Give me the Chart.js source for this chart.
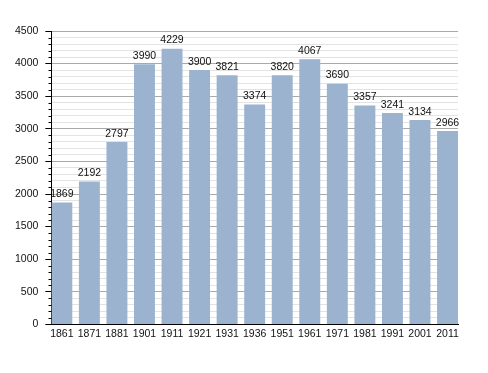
<!DOCTYPE html>
<html lang="en">
<head>
  <meta charset="utf-8" />
  <title>Population</title>
  <script src="https://cdn.jsdelivr.net/npm/chart.js@4.4.1/dist/chart.umd.min.js"></script>
  <style>
    html, body { margin: 0; padding: 0; background: #fff; }
  </style>
</head>
<body>
<canvas id="myChart" width="488" height="373"></canvas>

<script>
// Census years and population
const years = ['1861', '1871', '1881', '1901', '1911', '1921', '1931', '1936',
               '1951', '1961', '1971', '1981', '1991', '2001', '2011'];
const population = [1869, 2192, 2797, 3990, 4229, 3900, 3821, 3374,
                    3820, 4067, 3690, 3357, 3241, 3134, 2966];

// y axis settings
const yMax = 4500;
const yMajor = 500;
const yMinor = 100;

const FONT = "'Liberation Sans', Arial, Helvetica, sans-serif";

// Value labels above each bar
const valueLabels = {
  id: 'valueLabels',
  afterDatasetsDraw(chart) {
    const ctx = chart.ctx;
    const meta = chart.getDatasetMeta(0);
    ctx.save();
    ctx.font = '10.5px ' + FONT;
    ctx.fillStyle = '#111';
    ctx.textAlign = 'center';
    ctx.textBaseline = 'bottom';
    meta.data.forEach((bar, i) => {
      ctx.fillText(String(population[i]), bar.x, bar.y - 3);
    });
    ctx.restore();
  }
};

// Short minor tick marks on the y axis
const minorTicks = {
  id: 'minorTicks',
  afterDraw(chart) {
    const y = chart.scales.y;
    const ctx = chart.ctx;
    const x0 = Math.round(chart.chartArea.left) + 0.5;
    ctx.save();
    ctx.strokeStyle = '#000';
    ctx.lineWidth = 1;
    ctx.beginPath();
    y.ticks.forEach(t => {
      if (t.value % yMajor !== 0) {
        const py = Math.round(y.getPixelForValue(t.value)) + 0.5;
        ctx.moveTo(x0 - 3, py);
        ctx.lineTo(x0, py);
      }
    });
    ctx.stroke();
    ctx.restore();
  }
};

window.addEventListener('load', () => {
  const ctx = document.getElementById('myChart').getContext('2d');
  new Chart(ctx, {
    type: 'bar',
    data: {
      datasets: [{
        data: population.map((v, i) => ({ x: i, y: v })),
        backgroundColor: '#9bb3cf',
        borderWidth: 0,
        categoryPercentage: 1,
        barPercentage: 0.76
      }]
    },
    options: {
      responsive: false,
      animation: false,
      layout: { padding: { left: 8, right: 30, top: 31, bottom: 30 } },
      plugins: {
        legend: { display: false },
        tooltip: { enabled: false }
      },
      scales: {
        x: {
          type: 'linear',
          offset: false,
          min: -0.38,
          max: years.length - 1 + 0.38,
          afterBuildTicks: s => { s.ticks = years.map((_, i) => ({ value: i })); },
          grid: { display: false, drawTicks: false, offset: false },
          border: { display: true, color: '#000', width: 1 },
          ticks: {
            autoSkip: false,
            maxRotation: 0,
            padding: 3,
            color: '#111',
            font: { family: FONT, size: 10.5 },
            callback: v => years[v]
          }
        },
        y: {
          min: 0,
          max: yMax,
          border: { display: true, color: '#000', width: 1 },
          grid: {
            color: c => (c.tick && c.tick.value % yMajor === 0) ? '#a9a9a9' : '#e3e3e3',
            tickColor: c => (c.tick && c.tick.value % yMajor === 0) ? '#000' : 'rgba(0,0,0,0)',
            tickLength: 6
          },
          ticks: {
            stepSize: yMinor,
            maxTicksLimit: 100,
            autoSkip: false,
            padding: 7,
            color: '#111',
            font: { family: FONT, size: 10.5 },
            callback: v => (v % yMajor === 0 ? String(v) : '')
          }
        }
      }
    },
    plugins: [valueLabels, minorTicks]
  });
});
</script>
</body>
</html>
